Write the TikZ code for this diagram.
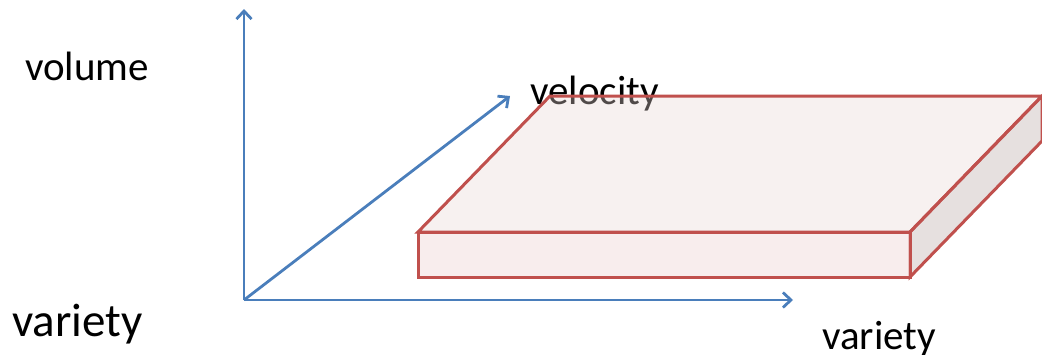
\documentclass[tikz,border=0pt]{standalone}
\usepackage{fontspec}
\setmainfont{Carlito}
\usetikzlibrary{arrows.meta}
\definecolor{axisblue}{HTML}{4A7EBB}
\definecolor{slabred}{HTML}{C0504D}
\definecolor{topfill}{HTML}{E8D6D3}
\definecolor{frontfill}{HTML}{EBCBCB}
\definecolor{sidefill}{HTML}{B8A5A3}
\begin{document}
\begin{tikzpicture}[x=1pt,y=-1pt,
  axis/.style={draw=axisblue,line width=2.8pt,-{Straight Barb[length=8pt,width=15pt,line width=2.8pt]}},
  lbl/.style={anchor=base west,inner sep=0pt,font=\fontsize{41}{48}\selectfont},
  lblbig/.style={anchor=base west,inner sep=0pt,font=\fontsize{47}{54}\selectfont},
  face/.style={draw=slabred,line width=3pt,line join=miter,fill opacity=0.35}]
\useasboundingbox (0,0) rectangle (1042,354);
% labels
\node[lbl] (vol) at (25,80) {volume};
\node[lblbig] (varl) at (12,336) {variety};
\node[lbl] (varr) at (822,349) {variety};
\node[lbl] (vel) at (530,104) {velocity};
% axes
\coordinate (o) at (244,300);
\coordinate (ytip) at (244,9);
\coordinate (xtip) at (793,300);
\coordinate (ztip) at (510,96);
\draw[axis] (o) -- (ytip);
\draw[axis] (o) -- (xtip);
\draw[axis] (o) -- (ztip);
% slab
\coordinate (fa) at (418,232);
\coordinate (fb) at (910,232);
\coordinate (fc) at (910,277);
\coordinate (fd) at (418,277);
\coordinate (ba) at (550,96);
\coordinate (bb) at (1042,96);
\coordinate (bc) at (1042,141);
\draw[face,fill=topfill] (fa) -- (ba) -- (bb) -- (fb) -- cycle;
\draw[face,fill=sidefill] (fb) -- (bb) -- (bc) -- (fc) -- cycle;
\draw[face,fill=frontfill] (fa) -- (fb) -- (fc) -- (fd) -- cycle;
\end{tikzpicture}
\end{document}
